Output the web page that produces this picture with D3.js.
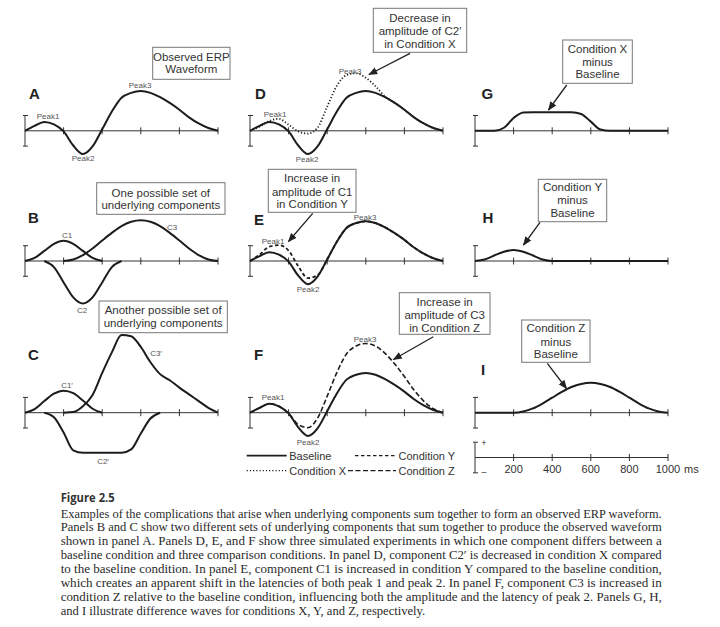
<!DOCTYPE html>
<html><head><meta charset="utf-8">
<script src="https://cdn.jsdelivr.net/npm/d3@7"></script>
<style>body{margin:0;background:#fff} svg{display:block}</style>
</head><body>
<svg id="c" width="720" height="627"></svg>
<script>
// ---- data (time in ms, amplitude in arbitrary µV units; scale bar = ±5) ----
const times     = [0,50,100,150,200,250,300,350,400,450,500,550,600,650,700,750,800,850,900,950,1000];
const baseline  = [0,1.6,2.9,2.1,-0.2,-4.8,-7.6,-5.1,0.5,6.3,10.8,12.4,13,12.4,11,9.1,6.9,4.4,2.4,0.9,0];
const condX     = [0,1.4,3.2,3.9,2.0,-0.2,-0.9,1.0,7.9,14.7,18.2,18.8,17.3,14.6,11.2,9.1,6.9,4.4,2.4,0.9,0];
const condY     = [0,2.1,4.7,5.2,3.4,-1.7,-5.6,-4.6,0.5,6.3,10.8,12.4,13,12.4,11,9.1,6.9,4.4,2.4,0.9,0];
const condZ     = [0,1.6,2.9,2.1,-0.2,-3.9,-4.9,-1.8,5.4,13.1,19.2,21.8,22.6,21.8,19.4,15.9,11.8,7.4,3.8,1.3,0];
const compC1    = [0,1.0,3.3,5.6,6.6,5.6,3.3,1.0,0,0,0,0,0,0,0,0,0,0,0,0,0];
const compC2    = [0,0,0,-2.0,-7.0,-11.9,-13.9,-11.9,-7.0,-2.0,0,0,0,0,0,0,0,0,0,0,0];
const compC3    = [0,0,0,0,0,0.5,1.9,4.1,6.7,9.2,11.4,12.8,13.3,12.8,11.4,9.2,6.7,4.1,1.9,0.5,0];
const compC1p   = [0,1.2,3.8,6.2,7.2,6.4,4.0,1.3,0,0,0,0,0,0,0,0,0,0,0,0,0];
const compC2p   = [0,0,0,-1.5,-6.5,-12.3,-13.1,-13.1,-13.1,-13.1,-13.1,-12.0,-6.8,-1.9,0,0,0,0,0,0,0];
const compC3p   = [0,0,0,0,0,0.2,2.1,5.8,13.0,19.7,25.4,25.0,21.5,16.5,12.6,10.6,8.2,6.0,3.8,1.6,0];
const diffG     = [0,0,0,1.0,4.2,6.0,6.1,6.1,6.1,6.1,6.1,5.5,3.0,0.4,0,0,0,0,0,0,0];
const diffH     = [0,0.5,1.8,3.0,3.6,3.0,1.8,0.5,0,0,0,0,0,0,0,0,0,0,0,0,0];
const diffI     = [0,0,0,0,0,0.4,1.4,3.0,4.9,6.8,8.4,9.4,9.8,9.4,8.4,6.8,4.9,3.0,1.4,0.4,0];
const tickTimes = [200,400,600,800,1000];
const tickLabels= ["200","400","600","800","1000"];
const captionTitle = "Figure 2.5";
const captionLines = [
 "Examples of the complications that arise when underlying components sum together to form an observed ERP waveform.",
 "Panels B and C show two different sets of underlying components that sum together to produce the observed waveform",
 "shown in panel A. Panels D, E, and F show three simulated experiments in which one component differs between a",
 "baseline condition and three comparison conditions. In panel D, component C2\u2032 is decreased in condition X compared",
 "to the baseline condition. In panel E, component C1 is increased in condition Y compared to the baseline condition,",
 "which creates an apparent shift in the latencies of both peak 1 and peak 2. In panel F, component C3 is increased in",
 "condition Z relative to the baseline condition, influencing both the amplitude and the latency of peak 2. Panels G, H,",
 "and I illustrate difference waves for conditions X, Y, and Z, respectively."
];

const svg = d3.select('#c');
const SANS = "'Liberation Sans', Arial, Helvetica, sans-serif";
const INK = "#1c1c1c";
svg.append('defs').append('marker').attr('id','ah').attr('viewBox','0 0 10 10')
  .attr('refX',9).attr('refY',5).attr('markerWidth',7).attr('markerHeight',7).attr('orient','auto')
  .append('path').attr('d','M0,1 L10,5 L0,9 Z').attr('fill','#222');

const colX = [25, 250, 475];
const rowY = [130.8, 261, 412.7];
const W = 193, H = 15.3;

function panel(x0, y0){
  const x = d3.scaleLinear().domain([0,1000]).range([x0, x0+W]);
  const y = d3.scaleLinear().domain([-5,5]).range([y0+H, y0-H]);
  const g = svg.append('g');
  g.append('line').attr('x1',x(0)).attr('x2',x(1000)).attr('y1',y(0)).attr('y2',y(0))
    .attr('stroke','#333').attr('stroke-width',1);
  tickTimes.forEach(t=>g.append('line').attr('x1',x(t)).attr('x2',x(t))
    .attr('y1',y(0)-3.5).attr('y2',y(0)+3.5).attr('stroke','#333').attr('stroke-width',1));
  g.append('line').attr('x1',x(0)).attr('x2',x(0)).attr('y1',y(5)).attr('y2',y(-5)).attr('stroke','#333').attr('stroke-width',1);
  [5,-5].forEach(v=>g.append('line').attr('x1',x(0)-2).attr('x2',x(0)+3).attr('y1',y(v)).attr('y2',y(v))
    .attr('stroke','#333').attr('stroke-width',1));
  return {x,y,g};
}
function curve(p, arr, opts={}){
  let lo=0, hi=arr.length-1;
  if(opts.support){
    const f = arr.findIndex(v=>v!==0);
    let l = arr.length-1; while(l>0 && arr[l]===0) l--;
    lo = Math.max(0,f-1); hi = Math.min(arr.length-1,l+1);
  }
  const idx = d3.range(lo,hi+1);
  const line = d3.line().x(i=>p.x(times[i])).y(i=>p.y(arr[i])).curve(d3.curveMonotoneX);
  p.g.append('path').attr('d',line(idx)).attr('fill','none').attr('stroke',INK)
    .attr('stroke-width',opts.w||2).attr('stroke-dasharray',opts.dash||null)
    .attr('stroke-linejoin','round');
}
function txt(x,y,s,size,opts={}){
  return svg.append('text').attr('x',x).attr('y',y).text(s).attr('font-family',opts.font||SANS)
    .attr('font-size',size).attr('fill',opts.fill||'#333').attr('font-weight',opts.bold?'bold':null)
    .attr('text-anchor',opts.anchor||'start');
}
function letter(x,y,s){ txt(x,y,s,15,{bold:true,fill:'#222'}); }
function box(x1,y1,x2,y2,lines,centers){
  svg.append('rect').attr('x',x1).attr('y',y1).attr('width',x2-x1).attr('height',y2-y1)
    .attr('fill','#fff').attr('stroke','#777').attr('stroke-width',1);
  lines.forEach((s,i)=>txt((x1+x2)/2, centers[i]+4, s, 11.5, {anchor:'middle',fill:'#333'}));
}
function arrow(x1,y1,x2,y2){
  svg.append('line').attr('x1',x1).attr('y1',y1).attr('x2',x2).attr('y2',y2)
    .attr('stroke','#222').attr('stroke-width',1.3).attr('marker-end','url(#ah)');
}
const small = (x,y,s)=>txt(x,y,s,8,{anchor:'middle',fill:'#555'});

// Panel A
const pA = panel(colX[0], rowY[0]);
curve(pA, baseline);
letter(29,99,'A');
small(48,119,'Peak1'); small(83,161,'Peak2'); small(140,88,'Peak3');
box(152.7,47.3,230,79.3,['Observed ERP','Waveform'],[56.7,69]);

// Panel B
const pB = panel(colX[0], rowY[1]);
curve(pB, compC1, {support:true}); curve(pB, compC2, {support:true}); curve(pB, compC3, {support:true});
letter(28,223,'B');
small(67,238,'C1'); small(82,313,'C2'); small(172,230,'C3');
box(96.7,182.7,225,214.3,['One possible set of','underlying components'],[192.5,205]);

// Panel C
const pC = panel(colX[0], rowY[2]);
curve(pC, compC1p, {support:true}); curve(pC, compC2p, {support:true}); curve(pC, compC3p, {support:true});
letter(28,360,'C');
small(67,388,"C1\u2032"); small(103,464,"C2\u2032"); small(156,356,"C3\u2032");
box(99,301,227.3,332.7,['Another possible set of','underlying components'],[310,323]);

// Panel D
const pD = panel(colX[1], rowY[0]);
curve(pD, condX, {dash:'1.2,2', w:1.8});
curve(pD, baseline);
letter(255,99,'D');
small(275,117,'Peak1'); small(307,162,'Peak2'); small(350,74,'Peak3');
box(373.3,8.3,466.7,52.3,['Decrease in','amplitude of C2\u2032','in Condition X'],[17.7,31.2,44.3]);
arrow(410,53.3,369,74.5);

// Panel E
const pE = panel(colX[1], rowY[1]);
curve(pE, condY, {dash:'3.5,2.5', w:1.8});
curve(pE, baseline);
letter(254,225,'E');
small(273,244,'Peak1'); small(308,292,'Peak2'); small(365,220,'Peak3');
box(268.3,169.3,356,212.3,['Increase in','amplitude of C1','in Condition Y'],[178.3,191.5,204.3]);
arrow(312.7,213.3,288.5,241.5);

// Panel F
const pF = panel(colX[1], rowY[2]);
curve(pF, condZ, {dash:'5,2.5', w:1.6});
curve(pF, baseline);
letter(254,360,'F');
small(273,400,'Peak1'); small(308,445,'Peak2'); small(365,342,'Peak3');
box(399.3,292.7,490,334.3,['Increase in','amplitude of C3','in Condition Z'],[301.7,315,327.7]);
arrow(433.3,336.7,393.5,359.5);

// Legend
const lg = svg.append('g');
function legendItem(x1,x2,y,dash,label,w){
  lg.append('line').attr('x1',x1).attr('x2',x2).attr('y1',y).attr('y2',y).attr('stroke',INK)
    .attr('stroke-width',w).attr('stroke-dasharray',dash);
  txt(x2+2.5,y+4,label,11,{fill:'#333'});
}
legendItem(246.7,286.7,455.7,null,'Baseline',1.8);
legendItem(355,396,455.7,'3.5,2.5','Condition Y',1.3);
legendItem(246.7,286.7,470.7,'1.2,2','Condition X',1.3);
legendItem(348,396,470.7,'5,2.5','Condition Z',1.3);

// Panel G, H, I
const pG = panel(colX[2], rowY[0]);
curve(pG, diffG);
letter(481.5,99,'G');
box(562.7,40,632.3,83.3,['Condition X','minus','Baseline'],[49.3,62.3,74.3]);
arrow(566.7,85,548.5,110);

const pH = panel(colX[2], rowY[1]);
curve(pH, diffH);
letter(482.5,223,'H');
box(538.3,179.3,606.7,221.7,['Condition Y','minus','Baseline'],[187,200,212.7]);
arrow(540,222.3,523.5,245);

const pI = panel(colX[2], rowY[2]);
curve(pI, diffI);
letter(481,375,'I');
box(521.7,320,590,362.3,['Condition Z','minus','Baseline'],[328.3,341.7,354.3]);
arrow(547.3,363.3,566.5,388.5);

// Scale panel
const pS = panel(colX[2], 457.5);
txt(pS.x(0)+9, 446, '+', 9, {anchor:'middle', fill:'#333'});
txt(pS.x(0)+9, 475, '\u2013', 9, {anchor:'middle', fill:'#333'});
tickTimes.forEach((t,i)=>txt(pS.x(t), 473.3, tickLabels[i], 11, {anchor:'middle', fill:'#333'}));
txt(pS.x(1000)+16, 473.3, 'ms', 11, {fill:'#333'});

// Caption
txt(60.7, 502, captionTitle, 13, {bold:true, fill:'#333', font:"'Open Sans', 'Liberation Sans', sans-serif"})
  .attr('textLength',54).attr('lengthAdjust','spacingAndGlyphs');
captionLines.forEach((s,i)=>{
  const t = txt(60.7, 517.5 + i*13.96, s, 12.5, {fill:'#2a2a2a', font:"'Liberation Serif', 'Times New Roman', serif"});
  t.attr('textLength', i===captionLines.length-1 ? 364.5 : 601).attr('lengthAdjust','spacingAndGlyphs');
});
</script>
</body></html>
